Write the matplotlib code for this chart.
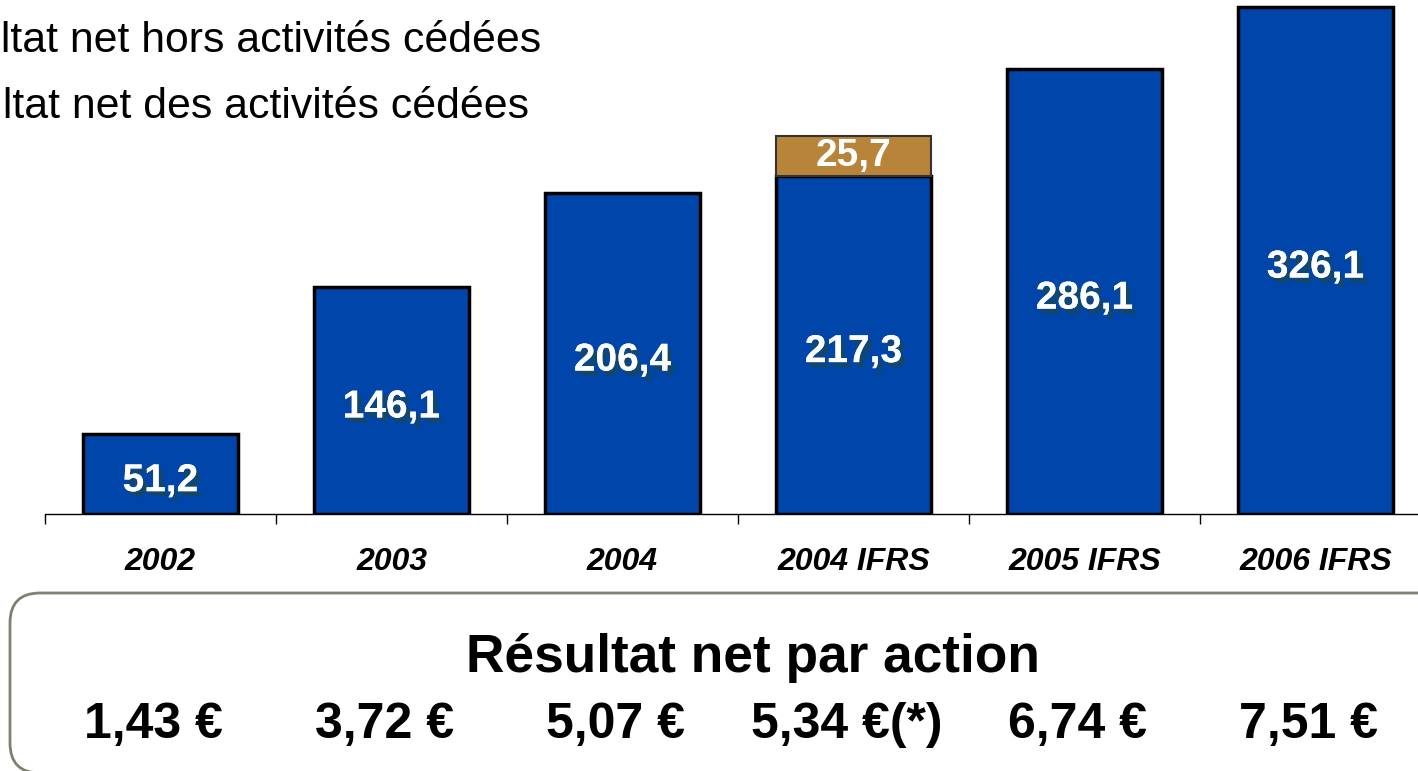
import matplotlib.pyplot as plt
import matplotlib.patheffects as pe
import matplotlib.transforms as mtransforms
from matplotlib.patches import FancyBboxPatch
import numpy as np

plt.rcParams["font.family"] = ["Liberation Sans", "DejaVu Sans"]

# --- données ---
categories = ["2002", "2003", "2004", "2004 IFRS", "2005 IFRS", "2006 IFRS"]
resultat_hors = [51.2, 146.1, 206.4, 217.3, 286.1, 326.1]
resultat_cedees = [0, 0, 0, 25.7, 0, 0]
bpa = ["1,43 €", "3,72 €", "5,07 €", "5,34 €(*)", "6,74 €", "7,51 €"]

legend_labels = ["Résultat net hors activités cédées",
                 "Résultat net des activités cédées"]
titre_bpa = "Résultat net par action"

BLUE = "#0046AA"
GOLD = "#B8843A"
SHADOW = "#12476A"

W, H = 1418, 771
fig = plt.figure(figsize=(W / 100, H / 100), dpi=100)

# axes des barres : 231 px par catégorie, base à y=514 px
ax = fig.add_axes([45 / W, (H - 514) / H, 1386 / W, 513 / H])
x = np.arange(len(categories))
ax.bar(x, resultat_hors, width=0.67, color=BLUE, edgecolor="black", linewidth=2.5, zorder=2)
ax.bar(x, resultat_cedees, width=0.67, bottom=resultat_hors, color=GOLD,
       edgecolor=["none" if v == 0 else "#333333" for v in resultat_cedees],
       linewidth=1.5, zorder=2)
ax.set_xlim(-0.5, 5.5)
ax.set_ylim(0, 330)
for s in ["top", "right", "left"]:
    ax.spines[s].set_visible(False)
ax.spines["bottom"].set_linewidth(1)
ax.set_yticks([])
ax.set_xticks(x)
ax.set_xticklabels(categories, fontsize=23, fontweight="bold", fontstyle="italic")
ax.tick_params(axis="x", which="major", length=0, pad=24)
ax.set_xticks(np.arange(-0.5, 6, 1), minor=True)
ax.tick_params(axis="x", which="minor", length=7.2, width=1, direction="out")

shadow = [pe.withSimplePatchShadow(offset=(3, -3.6), shadow_rgbFace=SHADOW, alpha=1.0),
          pe.Normal()]
lab_trans = mtransforms.offset_copy(ax.transData, fig=fig, x=0, y=-7, units="dots")
for xi, v in zip(x, resultat_hors):
    ax.text(xi, v / 2, f"{v:.1f}".replace(".", ","), transform=lab_trans,
            ha="center", va="center", color="white", fontsize=28, fontweight="bold",
            path_effects=shadow, zorder=3)
for xi, b, v in zip(x, resultat_hors, resultat_cedees):
    if v:
        ax.text(xi, b + v / 2, f"{v:.1f}".replace(".", ","), ha="center", va="center",
                color="white", fontsize=28, fontweight="bold", zorder=3)

# calque en pixels pour la légende et le cadre
ov = fig.add_axes([0, 0, 1, 1], facecolor="none")
ov.set_xlim(0, W)
ov.set_ylim(H, 0)
ov.axis("off")

# légende coupée à gauche comme sur la diapo
t1 = ov.text(541, 52, legend_labels[0], ha="right", va="baseline", fontsize=30.8)
fig.canvas.draw()
bb = t1.get_window_extent().transformed(ov.transData.inverted())
x0 = min(bb.x0, bb.x1)
t1.set_ha("left")
t1.set_x(x0)
ov.text(x0 + 2, 118, legend_labels[1], ha="left", va="baseline", fontsize=30.8)

box = FancyBboxPatch((10, 593), 1460, 180, boxstyle="round,pad=0,rounding_size=30",
                     facecolor="white", edgecolor="#808070", linewidth=2)
ov.add_patch(box)
ov.text(753, 672, titre_bpa, ha="center", va="baseline", fontsize=38.3, fontweight="bold")

trans = mtransforms.offset_copy(
    mtransforms.blended_transform_factory(ax.transData, ov.transData),
    fig=fig, x=-7, y=0, units="dots")
for xi, t in zip(x, bpa):
    ov.text(xi, 738, t, transform=trans, ha="center", va="baseline",
            fontsize=36, fontweight="bold")

fig.savefig("out.png", dpi=100)
